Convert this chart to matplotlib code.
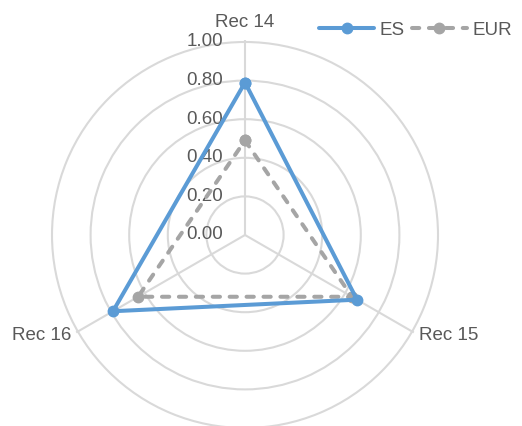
import numpy as np
import matplotlib
matplotlib.use("Agg")
import matplotlib.pyplot as plt
from matplotlib.transforms import offset_copy

plt.rcParams['font.family'] = ['Liberation Sans', 'DejaVu Sans']

categories = ["Rec 14", "Rec 15", "Rec 16"]
es_values = [0.79, 0.67, 0.79]
eur_values = [0.49, 0.64, 0.64]
r_ticks = [0.0, 0.2, 0.4, 0.6, 0.8, 1.0]
r_tick_labels = ["0.00", "0.20", "0.40", "0.60", "0.80", "1.00"]

W, H = 522, 426
fig = plt.figure(figsize=(W / 100, H / 100), dpi=100)
cx, cy, R = 245, 235, 193
rmax = 1.01
Ra = R * rmax
ax = fig.add_axes([(cx - Ra) / W, (H - cy - Ra) / H, 2 * Ra / W, 2 * Ra / H], projection='polar')
ax.set_theta_offset(np.pi / 2)
ax.set_theta_direction(-1)
ax.set_ylim(0, rmax)

n = len(categories)
angles = np.linspace(0, 2 * np.pi, n, endpoint=False)

grid_color = '#d9d9d9'
ax.spines['polar'].set_visible(False)
ax.set_xticks(angles)
ax.set_xticklabels([])
ax.set_yticks(r_ticks[1:])
ax.set_yticklabels([])
ax.yaxis.grid(True, color=grid_color, linewidth=1.5)
ax.xaxis.grid(True, color=grid_color, linewidth=1.5)
ax.tick_params(length=0)

text_color = '#595959'
fs = 13.5
# category labels
aligns = [('center', 'center', 1.10), ('left', 'center', 1.04), ('right', 'center', 1.04)]
for a, lab, (ha, va, rr) in zip(angles, categories, aligns):
    ax.text(a, rr, lab, ha=ha, va=va, fontsize=fs, color=text_color, clip_on=False)

# radial labels
tr = offset_copy(ax.transData, fig=fig, x=-22, y=0, units='dots')
for r, lab in zip(r_ticks, r_tick_labels):
    ax.text(0, r, lab, transform=tr, ha='right', va='center', fontsize=fs, color=text_color, clip_on=False)

th = np.append(angles, angles[0])
es_c = np.append(es_values, es_values[0])
eur_c = np.append(eur_values, eur_values[0])

ax.plot(th, eur_c, color='#a5a5a5', lw=2.9, linestyle=(0, (1.8, 2.4)), dash_capstyle='round',
        marker='o', markersize=7.5, label='EUR', zorder=3, clip_on=False)
ax.plot(th, es_c, color='#5b9bd5', lw=2.9, solid_capstyle='round', solid_joinstyle='round',
        marker='o', markersize=7.5, label='ES', zorder=4, clip_on=False)

handles, labels = ax.get_legend_handles_labels()
leg = fig.legend(handles[::-1], labels[::-1], loc='center left',
                 bbox_to_anchor=(319 / W, 1 - 30 / H), ncol=2, frameon=False,
                 fontsize=fs, handlelength=2.95, handletextpad=0.3, columnspacing=0.35,
                 borderpad=0, borderaxespad=0, labelcolor=text_color)

fig.savefig('out.png', dpi=100)
